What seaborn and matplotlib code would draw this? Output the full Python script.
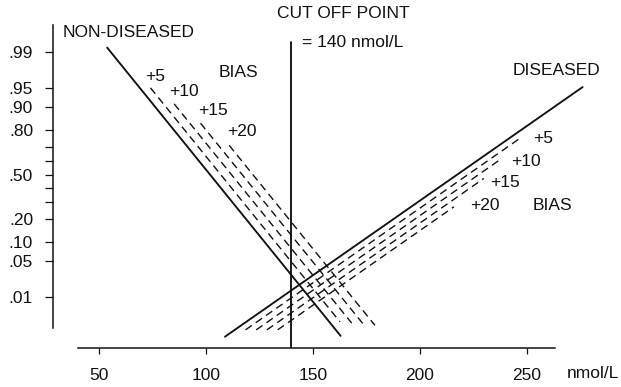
import matplotlib
matplotlib.use("Agg")
import matplotlib.pyplot as plt
import pandas as pd
import seaborn as sns
from statistics import NormalDist

# Concentration (nmol/L) and cumulative fraction at the two ends of each population line
nondiseased_x = [54, 163]
nondiseased_p = [0.992, 0.0011]
diseased_x = [109, 276]
diseased_p = [0.00104, 0.9515]

# Positive analytical bias (nmol/L) and the fraction range covered by each shifted line
bias_levels = [5, 10, 15, 20]
nondiseased_bias_start = [0.95, 0.91, 0.835, 0.71]
nondiseased_bias_end = [0.0026, 0.0024, 0.0023, 0.0021]
diseased_bias_start = [0.0016, 0.0016, 0.0016, 0.0016]
diseased_bias_end = [0.75, 0.62, 0.47, 0.27]

cutoff = 140
cutoff_top_p = 0.994

prob_ticks = [.99, .95, .90, .80, .70, .60, .50, .40, .30, .20, .10, .05, .01]
prob_labels = ['.99', '.95', '.90', '.80', '', '', '.50', '', '', '.20', '.10', '.05', '.01']
x_ticks = [50, 100, 150, 200, 250]

probit = NormalDist().inv_cdf

# probability-paper layout (x in nmol/L, y in normal deviates)
X_LIM = (28.5, 284.1)
Z_LIM = (-3.283, 2.932)
Y_SPINE = (-2.913, 2.837)
X_SPINE = (40.4, 263.1)


def conc_at(p, xs, ps, shift=0.0):
    """Concentration on a straight probit line through (xs, ps), moved right by shift."""
    z0, z1 = probit(ps[0]), probit(ps[1])
    return xs[0] + (probit(p) - z0) * (xs[1] - xs[0]) / (z1 - z0) + shift


rows = []


def add_line(name, kind, xs, zs):
    for x, z in zip(xs, zs):
        rows.append({"line": name, "kind": kind, "conc": x, "z": z})


add_line("non-diseased", "solid", nondiseased_x, [probit(p) for p in nondiseased_p])
add_line("diseased", "solid", diseased_x, [probit(p) for p in diseased_p])
for b, s, e in zip(bias_levels, nondiseased_bias_start, nondiseased_bias_end):
    add_line(f"non-diseased +{b}", "bias",
             [conc_at(s, nondiseased_x, nondiseased_p, b), conc_at(e, nondiseased_x, nondiseased_p, b)],
             [probit(s), probit(e)])
for b, s, e in zip(bias_levels, diseased_bias_start, diseased_bias_end):
    add_line(f"diseased +{b}", "bias",
             [conc_at(s, diseased_x, diseased_p, b), conc_at(e, diseased_x, diseased_p, b)],
             [probit(s), probit(e)])
add_line("cutoff", "solid", [cutoff, cutoff], [Z_LIM[0], probit(cutoff_top_p)])

df = pd.DataFrame(rows)

sns.set_theme(style="white")
plt.rcParams["font.family"] = ["Liberation Sans", "DejaVu Sans"]
INK = "#111111"

fig = plt.figure(figsize=(6.21, 3.87), dpi=100)
ax = fig.add_axes([52.5 / 621, 1 - 347.5 / 387, (600 - 52.5) / 621, (347.5 - 20) / 387])

sns.lineplot(data=df, x="conc", y="z", units="line", estimator=None, sort=False,
             style="kind", dashes={"solid": "", "bias": (5.5, 3.5)},
             size="kind", sizes={"solid": 1.35, "bias": 1.0},
             color=INK, legend=False, ax=ax)

ax.set_xlim(*X_LIM)
ax.set_ylim(*Z_LIM)
ax.set_xlabel("")
ax.set_ylabel("")

ax.set_yticks([probit(p) for p in prob_ticks])
ax.set_yticklabels(prob_labels)
ax.set_xticks(x_ticks)
ax.set_xticklabels([str(v) for v in x_ticks])

for side in ("top", "right"):
    ax.spines[side].set_visible(False)
ax.spines["left"].set_bounds(*Y_SPINE)
ax.spines["bottom"].set_bounds(*X_SPINE)
for side in ("left", "bottom"):
    ax.spines[side].set_color(INK)
    ax.spines[side].set_linewidth(1.1)

ax.tick_params(axis="y", direction="out", length=6, width=0.9, pad=8,
               labelsize=12.5, colors=INK, left=True)
ax.tick_params(axis="x", direction="out", length=4, width=0.9, pad=11,
               labelsize=12.5, colors=INK, bottom=True)

txt = dict(fontsize=12.5, color=INK, va="center", ha="left")
ax.text(33.4, 2.70, "NON-DISEASED", **txt)
ax.text(133.3, 3.046, "CUT OFF POINT", **txt)
ax.text(145.0, 2.514, "= 140 nmol/L", **txt)
ax.text(243.5, 1.983, "DISEASED", **txt)
ax.text(106.2, 1.945, "BIAS", **txt)
ax.text(252.8, -0.594, "BIAS", **txt)

# bias labels beside the shifted lines
for label, (x, z) in zip(bias_levels, [(71.7, 1.869), (82.9, 1.571), (96.4, 1.209), (110.0, 0.812)]):
    ax.text(x, z, f"+{label}", **txt)
for label, (x, z) in zip(bias_levels, [(252.8, 0.674), (242.5, 0.243), (232.7, -0.161), (223.3, -0.594)]):
    ax.text(x, z, f"+{label}", **txt)

ax.text(268.7, -3.767, "nmol/L", **txt)

fig.savefig("out.png", dpi=100)
